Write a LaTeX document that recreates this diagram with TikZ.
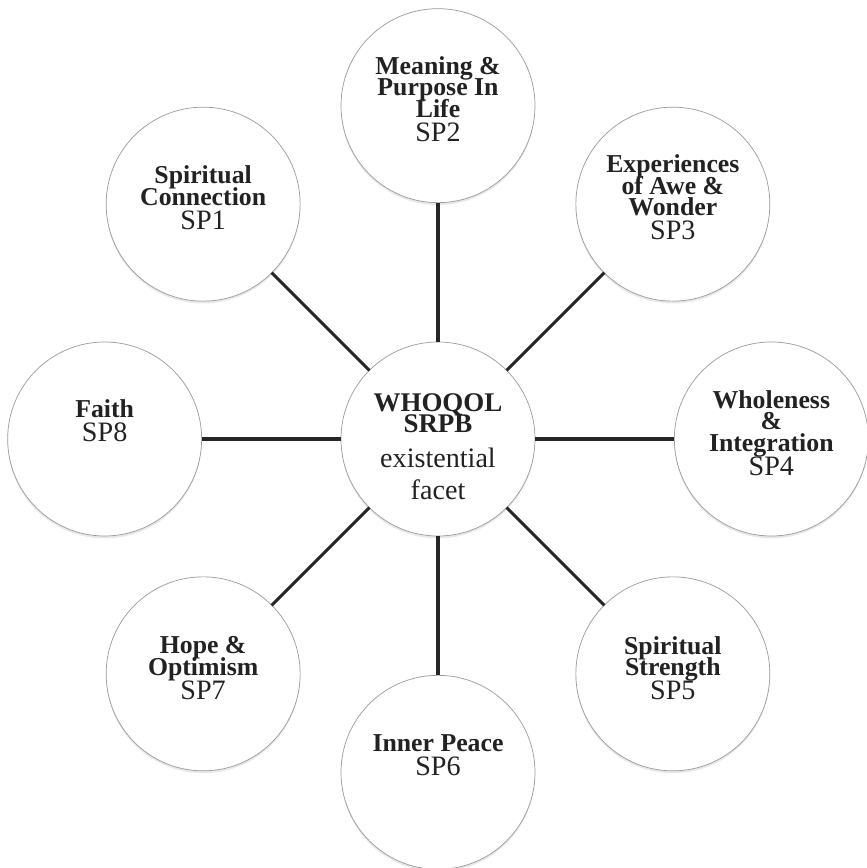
\documentclass[tikz,border=0pt]{standalone}
\usepackage{fontspec}
\setmainfont{Liberation Serif}
\usepackage{tikz}
\usetikzlibrary{positioning, shadows}
\definecolor{spokeline}{HTML}{262626}
\definecolor{ringedge} {HTML}{9B9B9B}
\definecolor{facettext}{HTML}{222222}
\newcommand{\tightlines}{\lineskiplimit=-30pt\relax}
\tikzset{
  facetnode/.style={circle, minimum size=5.82cm, inner sep=0pt, outer sep=0pt,
    draw=ringedge, line width=0.6pt, fill=white, align=center,
    text=facettext,
    font=\fontsize{22}{18.4}\selectfont\bfseries\tightlines,
    drop shadow={shadow xshift=0pt, shadow yshift=-2pt, opacity=0.18}},
  hubnode/.style={facetnode,
    font=\fontsize{23}{18}\selectfont\bfseries\tightlines},
  spoke/.style={line width=2.6pt, color=spokeline}
}
\newcommand{\spid}[1]{\\[2pt]{\fontsize{24}{20}\selectfont\mdseries #1}}

\begin{document}
\begin{tikzpicture}[node distance=4.18cm]

  \useasboundingbox[fill=white] (-13.14, -12.87) rectangle (12.84, 13.17);

  %% HUB
  \node[hubnode, text height=3.6cm, text depth=0pt] (hub) at (0, 0)
    {WHOQOL\\SRPB\\[12pt]
     {\fontsize{24}{20}\selectfont\mdseries existential}\\[9pt]
     {\fontsize{24}{20}\selectfont\mdseries facet}};

  %% RING OF FACETS
  \node[facetnode, text depth=0.42cm, above=of hub] (sp2)
    {Meaning \&\\Purpose In\\Life\spid{SP2}};
  \node[facetnode, text depth=0.36cm, right=of hub] (sp4)
    {Wholeness\\\&\\Integration\spid{SP4}};
  \node[facetnode, text depth=1.02cm, below=of hub] (sp6)
    {Inner Peace\spid{SP6}};
  \node[facetnode, text depth=1.08cm, left=of hub] (sp8)
    {Faith\spid{SP8}};

  \node[facetnode, text depth=0.39cm,
        above left=2.93cm and 2.93cm of hub] (sp1)
    {Spiritual\\Connection\spid{SP1}};
  \node[facetnode, text depth=0.42cm,
        above right=2.93cm and 2.93cm of hub] (sp3)
    {Experiences\\of Awe \&\\Wonder\spid{SP3}};
  \node[facetnode, text depth=0.36cm,
        below right=2.93cm and 2.93cm of hub] (sp5)
    {Spiritual\\Strength\spid{SP5}};
  \node[facetnode, text depth=0.36cm,
        below left=2.93cm and 2.93cm of hub] (sp7)
    {Hope \&\\Optimism\spid{SP7}};

  %% SPOKES
  \draw[spoke] (hub) -- (sp1);
  \draw[spoke] (hub) -- (sp2);
  \draw[spoke] (hub) -- (sp3);
  \draw[spoke] (hub) -- (sp4);
  \draw[spoke] (hub) -- (sp5);
  \draw[spoke] (hub) -- (sp6);
  \draw[spoke] (hub) -- (sp7);
  \draw[spoke] (hub) -- (sp8);

\end{tikzpicture}
\end{document}
